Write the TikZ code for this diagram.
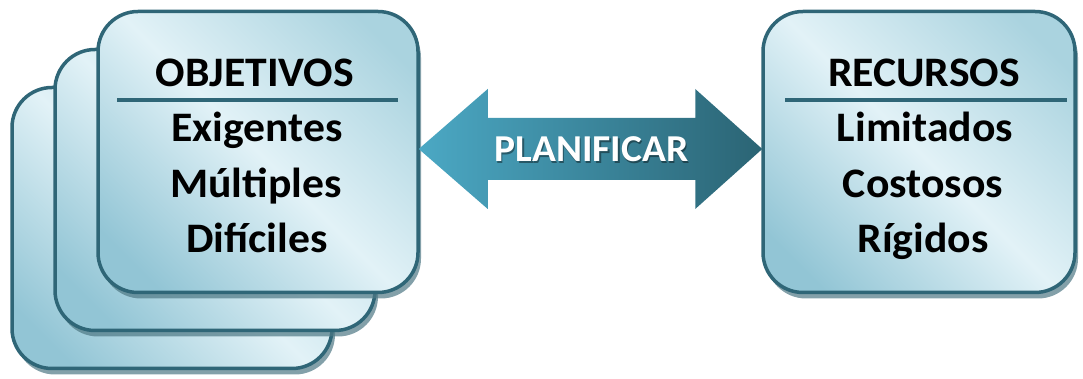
\documentclass[tikz,border=0pt]{standalone}
\usepackage{fontspec}
\setmainfont{Carlito}
\usetikzlibrary{shadows,calc}
\definecolor{edge}{HTML}{2F6677}
\definecolor{lite}{HTML}{E2F2F7}
\definecolor{deep}{HTML}{92C5D5}
\definecolor{midtone}{HTML}{AAD3DF}
\definecolor{shade}{HTML}{4E7884}
\definecolor{arrL}{HTML}{4BA8C4}
\definecolor{arrR}{HTML}{2B6474}
% light band running corner to corner across each card
\pgfdeclarehorizontalshading{cardglow}{100bp}{color(0bp)=(deep); color(22bp)=(deep); color(50bp)=(lite); color(78bp)=(midtone); color(100bp)=(midtone)}
\newcommand{\stretchx}[1]{\scalebox{1.04}[1]{#1}}
\begin{document}
\begin{tikzpicture}[x=1pt,y=1pt,
  card/.style={draw=edge, line width=3.5pt, rounded corners=40pt,
    minimum width=320pt, minimum height=281pt,
    shading=cardglow, shading angle=45,
    drop shadow={shadow xshift=3pt, shadow yshift=-6pt, fill=shade, opacity=0.7}},
  txt/.style={font=\bfseries\fontsize{42}{48}\selectfont, text=black, inner sep=0pt, anchor=base},
  plan/.style={font=\bfseries\fontsize{38}{44}\selectfont, inner sep=0pt, anchor=base},
  rulebar/.style={draw=edge, line width=4pt},
]
\useasboundingbox (0,0) rectangle (1083,379);

% stacked cards on the left, back to front
\node[card] (back) at (172,151) {};
\node[card] (mid) at (215,189) {};
\node[card] (obj) at (258,227) {};
% single card on the right
\node[card, minimum width=312pt] (rec) at (919,227) {};

% left card contents
\node[txt] (objT) at (255,292) {\stretchx{OBJETIVOS}};
\draw[rulebar] (117,279) -- (398,279);
\node[txt] (obj1) at (257,237) {\stretchx{Exigentes}};
\node[txt] (obj2) at (256,181) {\stretchx{Múltiples}};
\node[txt] (obj3) at (257,126) {\stretchx{Difíciles}};

% right card contents
\node[txt] (recT) at (924,292) {\stretchx{RECURSOS}};
\draw[rulebar] (785,279) -- (1067,279);
\node[txt] (rec1) at (925,237) {\stretchx{Limitados}};
\node[txt] (rec2) at (923,181) {\stretchx{Costosos}};
\node[txt] (rec3) at (923,126) {\stretchx{Rígidos}};

% double-headed arrow between the cards
\coordinate (tipL) at ($(obj.east)+(-1,3)$);
\coordinate (tipR) at ($(rec.west)+(1,3)$);
\path[left color=arrL, right color=arrR]
  (tipL) -- ++(69,60) -- ++(0,-29) -- ($(tipR)+(-67,31)$) -- ++(0,29)
  -- (tipR) -- ++(-67,-60) -- ++(0,29) -- ($(tipL)+(69,-31)$) -- ++(0,-29) -- cycle;
\node[plan, text=black, opacity=0.4] at (593,215.5) {\stretchx{PLANIFICAR}};
\node[plan, text=white] (planT) at (591.5,217) {\stretchx{PLANIFICAR}};
\end{tikzpicture}
\end{document}
